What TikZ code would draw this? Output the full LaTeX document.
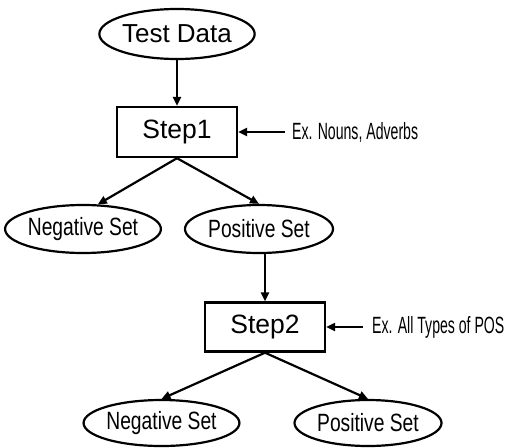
\documentclass[tikz,border=0pt]{standalone}
\usepackage{fontspec}
\setmainfont{Liberation Sans}
\newfontfamily\narrowfont[FakeStretch=0.77]{Liberation Sans}
\newfontfamily\notefont[FakeStretch=0.6]{Liberation Sans}
\usetikzlibrary{shapes.geometric,arrows.meta}
\tikzset{
  oval/.style={ellipse, draw, line width=2.2pt, inner sep=0pt, font=\narrowfont\fontsize{25}{27}\selectfont},
  stepbox/.style={rectangle, draw, line width=2.4pt, minimum width=120pt, minimum height=50pt, inner sep=0pt, font=\fontsize{26.5}{28}\selectfont},
  note/.style={anchor=west, inner sep=0pt, font=\notefont\fontsize{23.5}{25}\selectfont},
  conn/.style={line width=2.2pt, -{Triangle[length=9pt,width=8pt]}}
}
\begin{document}
\begin{tikzpicture}[x=1pt,y=-1pt]
\useasboundingbox (0,0) rectangle (513,447);
\node[oval, minimum width=154pt, minimum height=50pt, font=\fontsize{26}{28}\selectfont] (td) at (177,34) {Test Data};
\node[stepbox] (s1) at (177,132) {Step1};
\node[note] (n1) at (292,132) {Ex. Nouns, Adverbs};
\node[oval, minimum width=150pt, minimum height=48pt] (neg1) at (83,229) {Negative Set};
\node[oval, minimum width=148pt, minimum height=48pt] (pos1) at (259,229) {Positive Set};
\node[stepbox, minimum height=49pt] (s2) at (265,327) {Step2};
\node[note] (n2) at (372,327) {Ex. All Types of POS};
\node[oval, minimum width=149pt, minimum height=46pt] (neg2) at (161.5,423) {Negative Set};
\node[oval, minimum width=147pt, minimum height=46pt] (pos2) at (368,423) {Positive Set};
\coordinate (a1) at (285,132);
\coordinate (a2) at (363,327);
\draw[conn] (td) -- (s1);
\draw[conn] (a1) -- (s1.east);
\draw[conn] (s1.south) -- (neg1.59);
\draw[conn] (s1.south) -- (pos1.north);
\draw[conn] (pos1.south -| s2.north) -- (s2.north);
\draw[conn] (a2) -- (s2.east);
\draw[conn] (s2.south) -- (neg2.north);
\draw[conn] (s2.south) -- (pos2.north);
\end{tikzpicture}
\end{document}
